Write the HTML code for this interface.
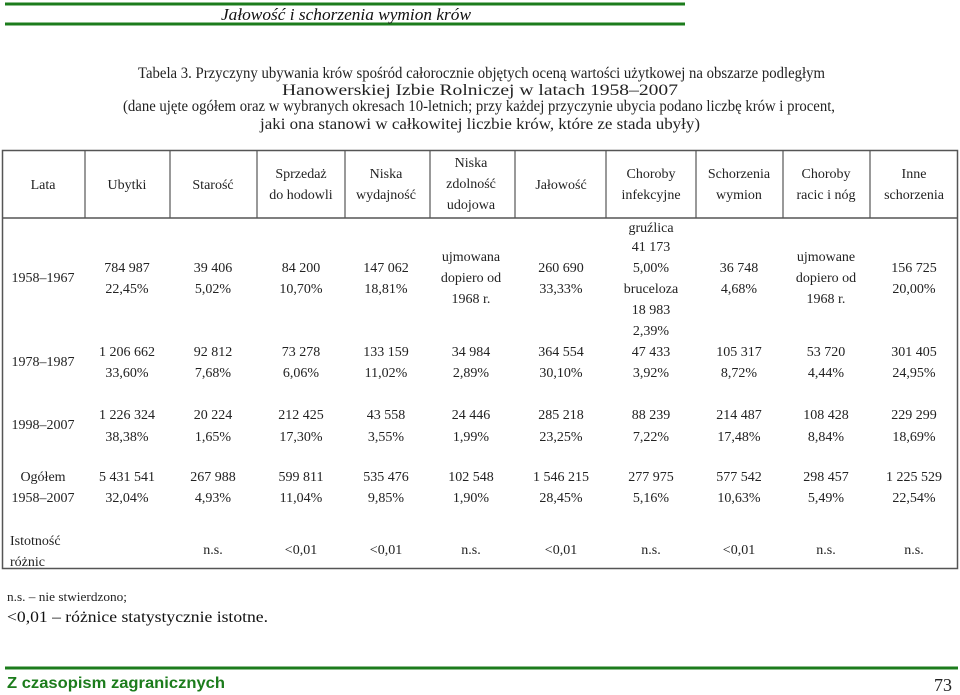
<!DOCTYPE html>
<html><head><meta charset="utf-8"><style>
html,body{margin:0;padding:0;background:#fff;width:960px;height:695px;overflow:hidden}
svg{display:block}
.s{font-family:"Liberation Serif",serif;font-size:14px;fill:#222}
.c{font-family:"Liberation Serif",serif;font-size:16px;fill:#222}
</style></head><body>
<svg id="pg" width="960" height="695" viewBox="0 0 960 695">
<line x1="5" y1="4" x2="685" y2="4" stroke="#1c7c1c" stroke-width="3"/>
<line x1="5" y1="24" x2="685" y2="24" stroke="#1c7c1c" stroke-width="3"/>
<text x="221" y="20" font-family="Liberation Serif,serif" font-style="italic" font-size="17" fill="#111" textLength="250" lengthAdjust="spacingAndGlyphs">Jałowość  i  schorzenia  wymion  krów</text>
<g class="c">
<text x="138" y="78" textLength="687" lengthAdjust="spacingAndGlyphs">Tabela 3. Przyczyny ubywania krów spośród całorocznie objętych oceną wartości użytkowej na obszarze podległym</text>
<text x="282" y="95" textLength="396" lengthAdjust="spacingAndGlyphs">Hanowerskiej Izbie Rolniczej w latach 1958–2007</text>
<text x="123" y="111" textLength="712" lengthAdjust="spacingAndGlyphs">(dane ujęte ogółem oraz w wybranych okresach 10-letnich; przy każdej przyczynie ubycia podano liczbę krów i procent,</text>
<text x="260" y="129" textLength="440" lengthAdjust="spacingAndGlyphs">jaki ona stanowi w całkowitej liczbie krów, które ze stada ubyły)</text>
</g>
<rect x="2.5" y="150.5" width="955" height="418" fill="none" stroke="#555" stroke-width="1.5"/>
<line x1="2" y1="218" x2="958" y2="218" stroke="#555" stroke-width="1.5"/>
<g id="vlines"></g>
<g id="cells" class="s"></g>
<text x="7" y="601" font-family="Liberation Serif,serif" font-size="13" fill="#222" textLength="120" lengthAdjust="spacingAndGlyphs">n.s. – nie stwierdzono;</text>
<text x="7" y="622" font-family="Liberation Serif,serif" font-size="16" fill="#111" textLength="261" lengthAdjust="spacingAndGlyphs">&lt;0,01 – różnice statystycznie istotne.</text>
<line x1="5" y1="668" x2="958" y2="668" stroke="#1c7c1c" stroke-width="3"/>
<text x="7" y="688" font-family="Liberation Sans,sans-serif" font-weight="bold" font-size="16" fill="#1c7c1c" textLength="218" lengthAdjust="spacingAndGlyphs">Z czasopism  zagranicznych</text>
<text x="952" y="691" text-anchor="end" font-family="Liberation Serif,serif" font-size="18" fill="#222">73</text>
</svg>
<script>
const colX=[43,127,213,301,386,471,561,651,739,826,914];
const bounds=[85,170,257,345,430,515,606,696,783,870];
// [column, y, text]
const cells=[
[0,189,"Lata"],[1,189,"Ubytki"],[2,189,"Starość"],
[3,178,"Sprzedaż"],[3,199,"do hodowli"],[4,178,"Niska"],[4,199,"wydajność"],
[5,167,"Niska"],[5,188,"zdolność"],[5,209,"udojowa"],[6,189,"Jałowość"],
[7,178,"Choroby"],[7,199,"infekcyjne"],[8,178,"Schorzenia"],[8,199,"wymion"],
[9,178,"Choroby"],[9,199,"racic i nóg"],[10,178,"Inne"],[10,199,"schorzenia"],
[0,282,"1958–1967"],[1,272,"784 987"],[1,293,"22,45%"],[2,272,"39 406"],[2,293,"5,02%"],
[3,272,"84 200"],[3,293,"10,70%"],[4,272,"147 062"],[4,293,"18,81%"],
[5,261,"ujmowana"],[5,282,"dopiero od"],[5,303,"1968 r."],[6,272,"260 690"],[6,293,"33,33%"],
[7,232,"gruźlica"],[7,251,"41 173"],[7,272,"5,00%"],[7,293,"bruceloza"],[7,314,"18 983"],[7,335,"2,39%"],
[8,272,"36 748"],[8,293,"4,68%"],[9,261,"ujmowane"],[9,282,"dopiero od"],[9,303,"1968 r."],
[10,272,"156 725"],[10,293,"20,00%"],
[0,366,"1978–1987"],[1,356,"1 206 662"],[1,377,"33,60%"],[2,356,"92 812"],[2,377,"7,68%"],
[3,356,"73 278"],[3,377,"6,06%"],[4,356,"133 159"],[4,377,"11,02%"],[5,356,"34 984"],[5,377,"2,89%"],
[6,356,"364 554"],[6,377,"30,10%"],[7,356,"47 433"],[7,377,"3,92%"],[8,356,"105 317"],[8,377,"8,72%"],
[9,356,"53 720"],[9,377,"4,44%"],[10,356,"301 405"],[10,377,"24,95%"],
[0,429,"1998–2007"],[1,419,"1 226 324"],[1,441,"38,38%"],[2,419,"20 224"],[2,441,"1,65%"],
[3,419,"212 425"],[3,441,"17,30%"],[4,419,"43 558"],[4,441,"3,55%"],[5,419,"24 446"],[5,441,"1,99%"],
[6,419,"285 218"],[6,441,"23,25%"],[7,419,"88 239"],[7,441,"7,22%"],[8,419,"214 487"],[8,441,"17,48%"],
[9,419,"108 428"],[9,441,"8,84%"],[10,419,"229 299"],[10,441,"18,69%"],
[0,481,"Ogółem"],[0,502,"1958–2007"],[1,481,"5 431 541"],[1,502,"32,04%"],[2,481,"267 988"],[2,502,"4,93%"],
[3,481,"599 811"],[3,502,"11,04%"],[4,481,"535 476"],[4,502,"9,85%"],[5,481,"102 548"],[5,502,"1,90%"],
[6,481,"1 546 215"],[6,502,"28,45%"],[7,481,"277 975"],[7,502,"5,16%"],[8,481,"577 542"],[8,502,"10,63%"],
[9,481,"298 457"],[9,502,"5,49%"],[10,481,"1 225 529"],[10,502,"22,54%"],
[2,554,"n.s."],[3,554,"<0,01"],[4,554,"<0,01"],[5,554,"n.s."],[6,554,"<0,01"],[7,554,"n.s."],[8,554,"<0,01"],[9,554,"n.s."],[10,554,"n.s."]
];
const NS="http://www.w3.org/2000/svg";
const vg=document.getElementById('vlines');
bounds.forEach(x=>{
  const l=document.createElementNS(NS,'line');
  
  
  l.setAttribute('x1',x);l.setAttribute('x2',x);l.setAttribute('y1',150);l.setAttribute('y2',218);
  l.setAttribute('stroke','#555');l.setAttribute('stroke-width','1.2');
  vg.appendChild(l);
});
const cg=document.getElementById('cells');
cells.forEach(c=>{
  const t=document.createElementNS(NS,'text');
  
  
  t.setAttribute('x',colX[c[0]]);t.setAttribute('y',c[1]);
  t.setAttribute('text-anchor','middle');
  t.textContent=c[2];
  cg.appendChild(t);
});
[["Istotność",545],["różnic",566]].forEach(r=>{
  const t=document.createElementNS(NS,'text');
  
  
  t.setAttribute('x',10);t.setAttribute('y',r[1]);
  t.textContent=r[0];
  cg.appendChild(t);
});
</script>
</body></html>
